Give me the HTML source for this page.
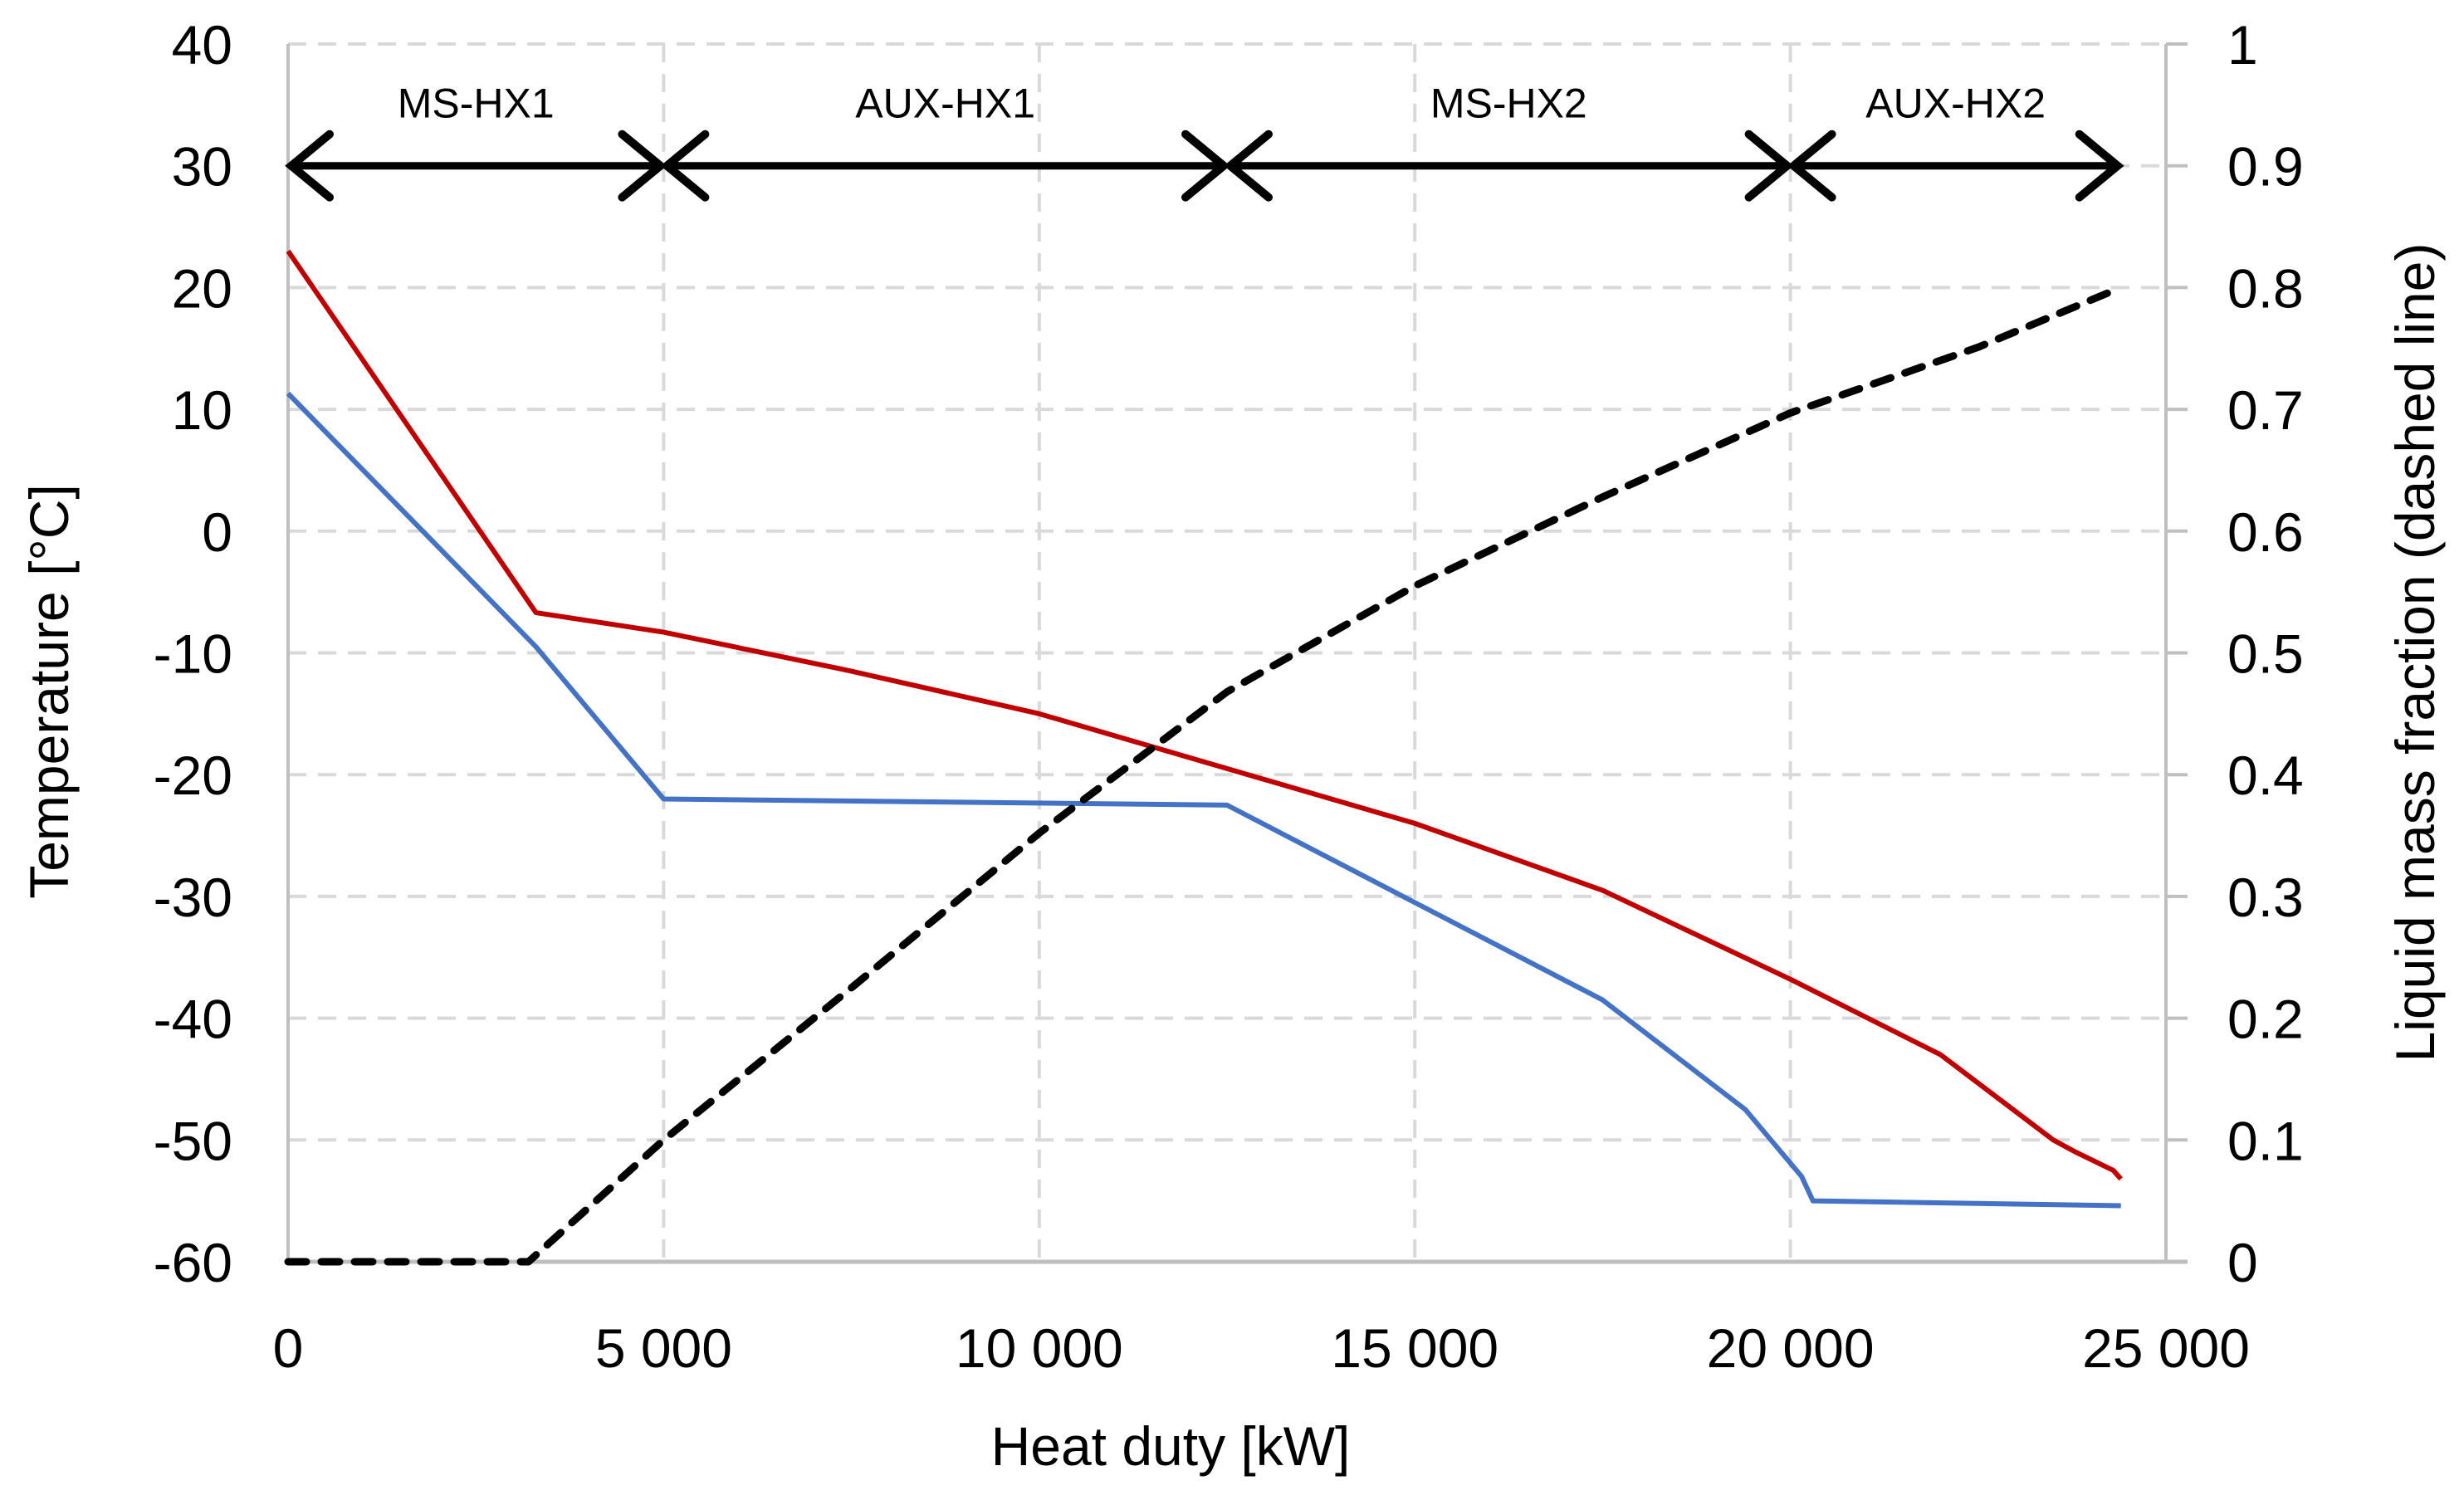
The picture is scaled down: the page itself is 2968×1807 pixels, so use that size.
<!DOCTYPE html>
<html><head><meta charset="utf-8"><style>
html,body{margin:0;padding:0;background:#fff}
svg{display:block}
text{font-family:"Liberation Sans",sans-serif;fill:#000}
</style></head><body>
<svg id="chart" width="2968" height="1807" viewBox="0 0 2968 1807">
<g id="grid"></g>
<g id="axes"></g>
<g id="series"></g>
<g id="annot"></g>
<text x="1410" y="1765" font-size="66" text-anchor="middle">Heat duty [kW]</text>
<text transform="translate(82,833) rotate(-90)" font-size="66" text-anchor="middle">Temperature [°C]</text>
<text transform="translate(2932,786) rotate(-90)" font-size="66" text-anchor="middle">Liquid mass fraction (dashed line)</text>
</svg>
<script>
const xTicks=[0,5000,10000,15000,20000,25000];
const xTickLabels=["0","5 000","10 000","15 000","20 000","25 000"];
const yTicks=[40,30,20,10,0,-10,-20,-30,-40,-50,-60];
const y2Ticks=[1,0.9,0.8,0.7,0.6,0.5,0.4,0.3,0.2,0.1,0];
const y2TickLabels=["1","0.9","0.8","0.7","0.6","0.5","0.4","0.3","0.2","0.1","0"];
const redX=[0,3300,5000,7500,10000,12500,15000,17500,20000,22000,23500,23800,24300,24400];
const redY=[23,-6.7,-8.3,-11.5,-15,-19.5,-24,-29.5,-36.8,-43,-50,-51,-52.5,-53.2];
const blueX=[0,3300,5000,12500,15000,17500,19400,20150,20300,24400];
const blueY=[11.3,-9.5,-22,-22.5,-30.5,-38.5,-47.5,-53,-55,-55.4];
const fracX=[0,3200,5000,7500,10000,12500,15000,17500,20000,22500,24400];
const fracY=[0,0,0.1,0.225,0.352,0.468,0.555,0.628,0.697,0.751,0.80];
const sectionBounds=[0,5000,12500,20000,24400];
const sectionNames=["MS-HX1","AUX-HX1","MS-HX2","AUX-HX2"];
const sectionArrowT=30;

const L=347,R=2609,T=53,B=1520;
const sx=v=>L+(v-0)/(25000)*(R-L);
const sy=v=>T+(40-v)/100*(B-T);
const sy2=v=>B-v*(B-T);
const NS="http://www.w3.org/2000/svg";
function mk(p,tag,attrs){const e=document.createElementNS(NS,tag);for(const k in attrs)e.setAttribute(k,attrs[k]);p.appendChild(e);return e;}
const grid=document.getElementById('grid'),axes=document.getElementById('axes'),series=document.getElementById('series'),annot=document.getElementById('annot');
yTicks.forEach((v,i)=>{
  if(v!==-60){const g=mk(grid,'line',{x1:L,x2:R,y1:sy(v),y2:sy(v),stroke:'#d9d9d9','stroke-width':4,'stroke-dasharray':'22 14'});
  
  }
  const t=mk(axes,'text',{x:280,y:sy(v)+24,'font-size':66,'text-anchor':'end'});t.textContent=v;
  
  
});
y2Ticks.forEach((v,i)=>{
  const tk=mk(axes,'line',{x1:R,x2:R+26,y1:sy2(v),y2:sy2(v),stroke:'#bfbfbf','stroke-width':4});
  
  
  const t=mk(axes,'text',{x:2683,y:sy2(v)+24,'font-size':66});t.textContent=y2TickLabels[i];
  
  
});
xTicks.forEach((v,i)=>{
  if(v>0&&v<25000){const g=mk(grid,'line',{x1:sx(v),x2:sx(v),y1:T,y2:B,stroke:'#d9d9d9','stroke-width':4,'stroke-dasharray':'22 14'});
  
  }
  const t=mk(axes,'text',{x:sx(v),y:1647,'font-size':66,'text-anchor':'middle'});t.textContent=xTickLabels[i];
  
  
});
const ax1=mk(axes,'line',{x1:L,x2:L,y1:T,y2:B,stroke:'#bfbfbf','stroke-width':4});


const ax2=mk(axes,'line',{x1:R,x2:R,y1:T,y2:B,stroke:'#bfbfbf','stroke-width':4});


const ax3=mk(axes,'line',{x1:L,x2:R+26,y1:B,y2:B,stroke:'#bfbfbf','stroke-width':5});


function pts(xs,ys,f){return xs.map((x,i)=>sx(x)+','+f(ys[i])).join(' ');}
const red=mk(series,'polyline',{points:pts(redX,redY,sy),fill:'none',stroke:'#c00000','stroke-width':6,'stroke-linejoin':'round'});


const blue=mk(series,'polyline',{points:pts(blueX,blueY,sy),fill:'none',stroke:'#4472c4','stroke-width':6,'stroke-linejoin':'round'});


const fr=mk(series,'polyline',{points:pts(fracX,fracY,sy2),fill:'none',stroke:'#000','stroke-width':9,'stroke-dasharray':'22 18','stroke-linecap':'round','stroke-linejoin':'round'});


const ay=sy(sectionArrowT);
for(let i=0;i<sectionNames.length;i++){
  const x1=sx(sectionBounds[i]),x2=sx(sectionBounds[i+1]);
  const g=mk(annot,'g',{});
  
  
  mk(g,'line',{x1:x1+4,x2:x2-4,y1:ay,y2:ay,stroke:'#000','stroke-width':9});
  mk(g,'polyline',{points:`${x1+50},${ay-38} ${x1+4},${ay} ${x1+50},${ay+38}`,fill:'none',stroke:'#000','stroke-width':10,'stroke-linecap':'round'});
  mk(g,'polyline',{points:`${x2-50},${ay-38} ${x2-4},${ay} ${x2-50},${ay+38}`,fill:'none',stroke:'#000','stroke-width':10,'stroke-linecap':'round'});
  const t=mk(annot,'text',{x:(x1+x2)/2,y:ay-58,'font-size':50,'text-anchor':'middle'});t.textContent=sectionNames[i];
  
  
}
</script>
</body></html>
